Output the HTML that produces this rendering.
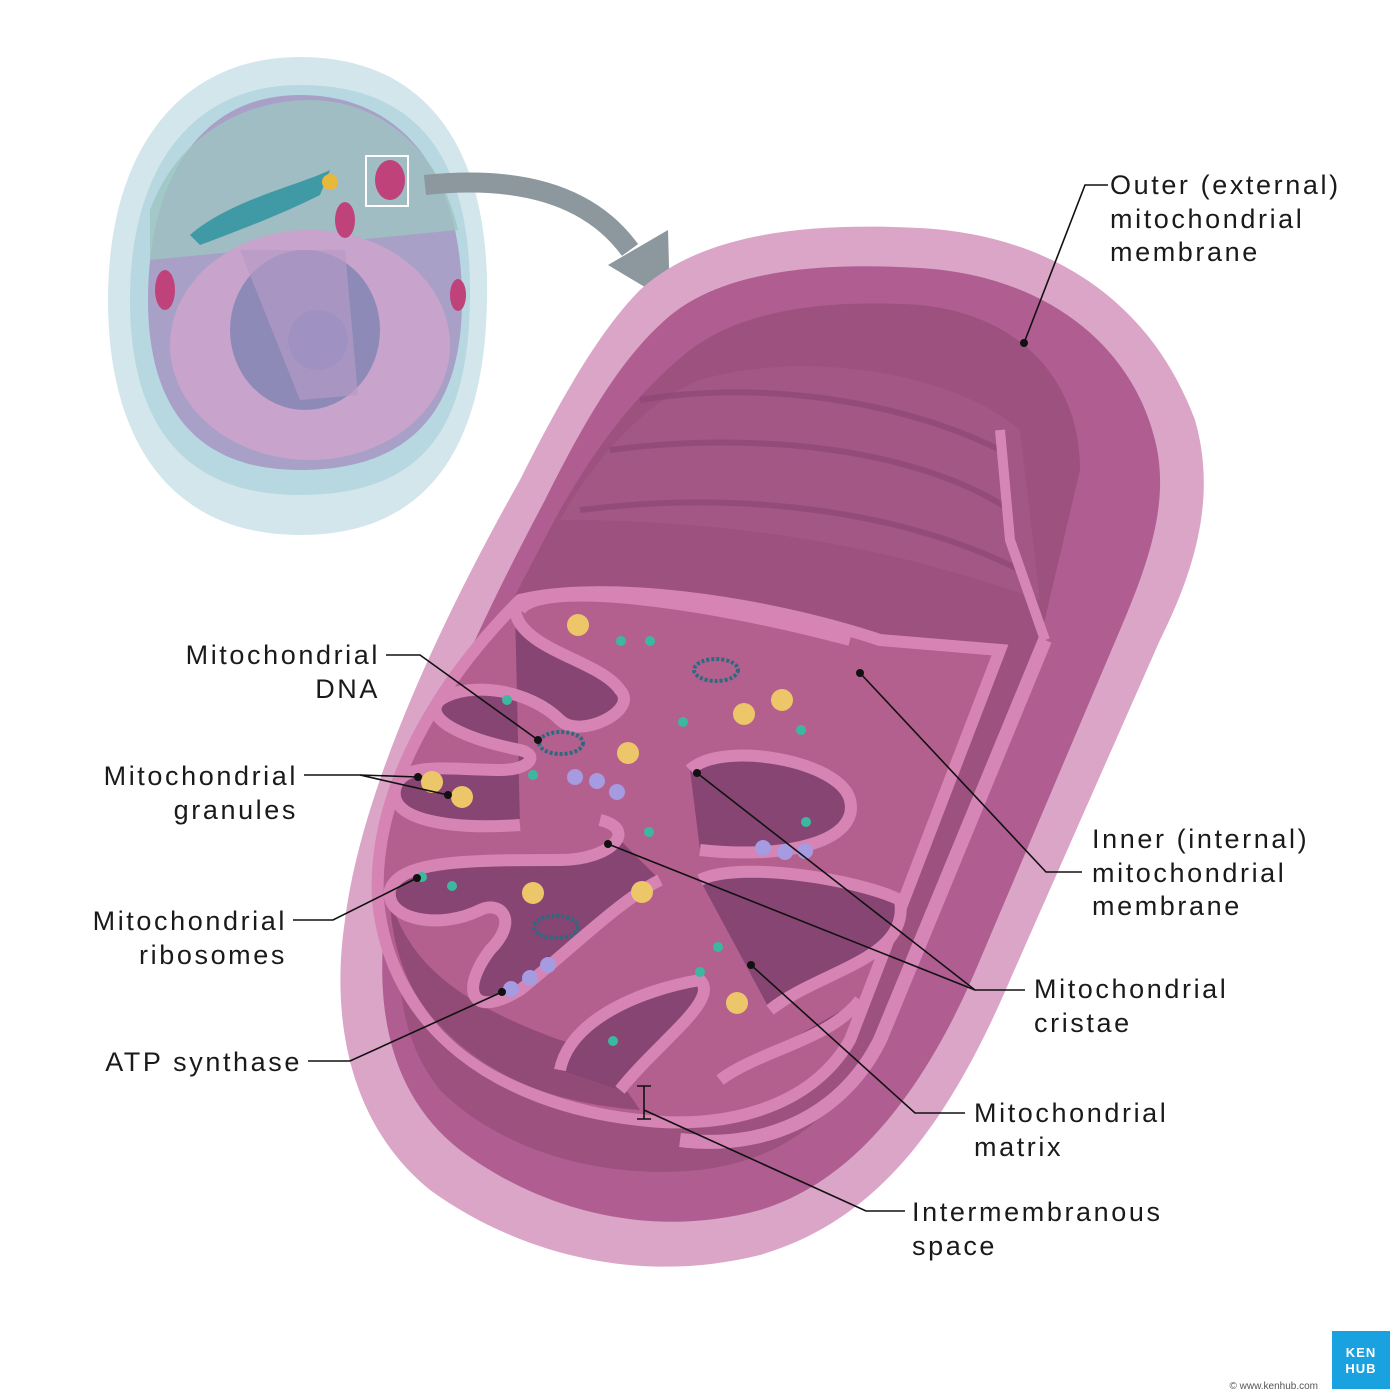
<!DOCTYPE html>
<html><head><meta charset="utf-8"><style>
html,body{margin:0;padding:0;background:#fff;}
svg{display:block;}
text{font-family:"Liberation Sans",sans-serif;font-size:27px;letter-spacing:2.6px;fill:#1a1a1a;}
</style></head><body>
<svg width="1400" height="1400" viewBox="0 0 1400 1400" xmlns="http://www.w3.org/2000/svg">
<rect width="1400" height="1400" fill="#fff"/>
<!-- cell -->
<g>
<path d="M300,57 C420,57 490,140 487,300 C485,430 440,535 300,535 C170,535 108,440 108,300 C108,150 180,57 300,57Z" fill="#d3e6ec"/>
<path d="M300,85 C420,85 472,160 470,300 C468,420 430,495 300,495 C180,495 130,420 130,300 C130,170 190,85 300,85Z" fill="#b7d8e0"/>
<path d="M300,95 C400,95 462,170 462,300 C462,400 420,470 300,470 C190,470 148,400 148,300 C148,180 200,95 300,95Z" fill="#a9a0c8"/>
<path d="M150,210 C180,130 250,100 310,100 C380,100 440,150 458,230 L150,260Z" fill="#9cc4c0" opacity="0.8"/>
<path d="M190,235 C230,200 300,185 330,170 L320,195 C280,215 240,230 200,245Z" fill="#3f9aa6"/>
<ellipse cx="310" cy="345" rx="140" ry="115" fill="#c8a3cc"/>
<ellipse cx="305" cy="330" rx="75" ry="80" fill="#8d8ab8"/>
<ellipse cx="318" cy="340" rx="30" ry="30" fill="#6f7cc0"/>
<path d="M240,250 L345,250 L358,395 L300,400Z" fill="#b59ac5" opacity="0.7"/>
<ellipse cx="390" cy="180" rx="15" ry="20" fill="#c0427a"/>
<ellipse cx="345" cy="220" rx="10" ry="18" fill="#c0427a"/>
<ellipse cx="165" cy="290" rx="10" ry="20" fill="#c0427a"/>
<ellipse cx="458" cy="295" rx="8" ry="16" fill="#c0427a"/>
<rect x="366" y="156" width="42" height="50" fill="none" stroke="#fff" stroke-width="2"/>
<circle cx="330" cy="182" r="8" fill="#e6b93a"/>
</g>
<!-- arrow -->
<path d="M425,185 C520,175 590,195 630,250" fill="none" stroke="#8d979e" stroke-width="20"/>
<polygon points="608,265 670,302 668,230" fill="#8d979e"/>
<!-- mitochondrion -->
<path d="M640,290 C700,235 800,222 920,228 C1050,235 1150,300 1195,420 C1215,490 1200,560 1160,640 L1010,980 C950,1120 880,1220 760,1255 C640,1285 520,1255 430,1190 C350,1125 330,1020 345,920 C360,800 430,640 520,480 C560,400 600,330 640,290Z" fill="#dba5c7"/>
<path d="M665,320 C720,270 820,262 920,268 C1040,275 1130,340 1155,440 C1170,500 1150,560 1120,630 L980,960 C930,1080 860,1180 760,1210 C650,1240 540,1210 460,1150 C390,1095 375,1010 385,920 C395,810 460,660 545,500 C585,420 620,360 665,320Z" fill="#b05e92"/>
<path d="M690,350 C750,305 840,300 920,305 C1020,315 1080,380 1080,470 L1040,640 L880,1030 C840,1120 780,1160 700,1170 C600,1180 500,1150 440,1090 C400,1040 395,980 400,900 C420,780 480,660 560,510 C600,440 640,390 690,350Z" fill="#9c517f"/>
<path d="M700,380 C800,350 950,370 1020,430 L1040,600 C900,550 750,520 560,520 C600,450 650,400 700,380Z" fill="#a65a88" opacity="0.7"/>
<g fill="none" stroke="#8a4572" stroke-width="6" opacity="0.6">
<path d="M640,400 C760,380 900,400 1000,450"/><path d="M610,450 C760,430 920,450 1010,510"/><path d="M580,510 C740,490 900,510 1020,570"/>
</g>
<path d="M1045,640 L880,1040 C840,1120 760,1150 680,1140" fill="none" stroke="#d686b6" stroke-width="14"/>
<path d="M1045,640 L1010,540 L1000,430" fill="none" stroke="#d686b6" stroke-width="10"/>
<path d="M520,600 C600,580 760,600 880,640 L1000,650 L850,1040 C810,1110 720,1130 640,1120 C500,1105 390,1030 378,900 C372,790 440,680 520,600Z" fill="#b4608f" stroke="#d584b4" stroke-width="12"/>
<path d="M390,900 C395,1030 500,1100 640,1110 C620,1080 600,1050 560,1040 C450,1000 410,960 390,900Z" fill="#7c3e66" opacity="0.6"/>
<g fill="#864573" stroke="#d584b4" stroke-width="12">
<path d="M515,610 C520,650 600,660 620,690 C640,710 580,740 560,720 C530,690 470,680 440,700 C420,720 470,740 520,750 C540,755 530,770 500,770 C450,770 400,760 395,790 C390,820 450,830 520,825"/>
<path d="M600,820 C640,830 610,860 560,860 C470,860 400,860 390,890 C385,920 440,930 480,910 C500,900 520,920 490,950 C460,990 470,1020 520,990 C570,950 620,900 660,880"/>
<path d="M560,1070 C570,1020 640,990 700,980 C720,1000 660,1040 620,1090"/>
<path d="M690,770 C720,740 840,760 850,800 C860,840 790,860 700,850"/>
<path d="M700,880 C740,860 860,880 900,900 C910,960 820,970 770,1010"/>
<path d="M720,1080 C760,1050 830,1040 860,1000"/>
</g>
<path d="M520,610 C540,580 700,600 850,640" fill="none" stroke="#d584b4" stroke-width="12"/>
<g fill="#edc66a">
<circle cx="578" cy="625" r="11"/><circle cx="744" cy="714" r="11"/><circle cx="782" cy="700" r="11"/><circle cx="628" cy="753" r="11"/>
<circle cx="432" cy="782" r="11"/><circle cx="462" cy="797" r="11"/><circle cx="533" cy="893" r="11"/><circle cx="642" cy="892" r="11"/><circle cx="737" cy="1003" r="11"/>
</g>
<g fill="#3cb8a0">
<circle cx="621" cy="641" r="5"/><circle cx="650" cy="641" r="5"/><circle cx="507" cy="700" r="5"/><circle cx="683" cy="722" r="5"/><circle cx="801" cy="730" r="5"/>
<circle cx="533" cy="775" r="5"/><circle cx="649" cy="832" r="5"/><circle cx="806" cy="822" r="5"/><circle cx="422" cy="877" r="5"/><circle cx="452" cy="886" r="5"/>
<circle cx="718" cy="947" r="5"/><circle cx="700" cy="972" r="5"/><circle cx="613" cy="1041" r="5"/>
</g>
<g fill="none" stroke="#2d6a7e" stroke-width="4" stroke-dasharray="3 2">
<ellipse cx="716" cy="670" rx="22" ry="11"/><ellipse cx="561" cy="743" rx="22" ry="11"/><ellipse cx="556" cy="927" rx="22" ry="11"/>
</g>
<g fill="#a69ae0">
<circle cx="575" cy="777" r="8"/><circle cx="597" cy="781" r="8"/><circle cx="617" cy="792" r="8"/>
<circle cx="763" cy="848" r="8"/><circle cx="785" cy="852" r="8"/><circle cx="805" cy="851" r="8"/>
<circle cx="511" cy="989" r="8"/><circle cx="530" cy="978" r="8"/><circle cx="548" cy="965" r="8"/>
</g>
<g stroke="#111" stroke-width="1.6" fill="none">
<path d="M1108,185 L1085,185 L1024,343"/>
<path d="M1082,872 L1046,872 L860,673"/>
<path d="M1025,990 L975,990 L697,773"/><path d="M975,990 L608,844"/>
<path d="M965,1113 L915,1113 L751,965"/>
<path d="M905,1211 L866,1211 L644,1110"/><path d="M644,1086 L644,1119 M637,1086 L651,1086 M637,1119 L651,1119"/>
<path d="M386,655 L420,655 L538,740"/>
<path d="M304,775 L360,775 L418,777 M360,775 L448,795"/>
<path d="M293,920 L333,920 L417,878"/>
<path d="M308,1061 L350,1061 L502,992"/>
</g>
<g fill="#111">
<circle cx="1024" cy="343" r="4"/><circle cx="860" cy="673" r="4"/><circle cx="697" cy="773" r="4"/><circle cx="608" cy="844" r="4"/>
<circle cx="751" cy="965" r="4"/><circle cx="538" cy="740" r="4"/><circle cx="418" cy="777" r="4"/><circle cx="448" cy="795" r="4"/>
<circle cx="417" cy="878" r="4"/><circle cx="502" cy="992" r="4"/>
</g>
<text x="1110" y="194">Outer (external)</text>
<text x="1110" y="228">mitochondrial</text>
<text x="1110" y="261">membrane</text>
<text x="1092" y="848">Inner (internal)</text>
<text x="1092" y="882">mitochondrial</text>
<text x="1092" y="915">membrane</text>
<text x="1034" y="998">Mitochondrial</text>
<text x="1034" y="1032">cristae</text>
<text x="974" y="1122">Mitochondrial</text>
<text x="974" y="1156">matrix</text>
<text x="912" y="1221">Intermembranous</text>
<text x="912" y="1255">space</text>
<text x="380" y="664" text-anchor="end">Mitochondrial</text>
<text x="380" y="698" text-anchor="end">DNA</text>
<text x="298" y="785" text-anchor="end">Mitochondrial</text>
<text x="298" y="819" text-anchor="end">granules</text>
<text x="287" y="930" text-anchor="end">Mitochondrial</text>
<text x="287" y="964" text-anchor="end">ribosomes</text>
<text x="302" y="1071" text-anchor="end">ATP synthase</text>
<rect x="1332" y="1331" width="58" height="58" fill="#1aa1e0"/>
<text x="1361" y="1357" text-anchor="middle" style="font-size:13px;letter-spacing:1px;fill:#fff;font-weight:bold">KEN</text>
<text x="1361" y="1373" text-anchor="middle" style="font-size:13px;letter-spacing:1px;fill:#fff;font-weight:bold">HUB</text>
<text x="1318" y="1389" text-anchor="end" style="font-size:10px;letter-spacing:0;fill:#555">© www.kenhub.com</text>
</svg>
</body></html>
